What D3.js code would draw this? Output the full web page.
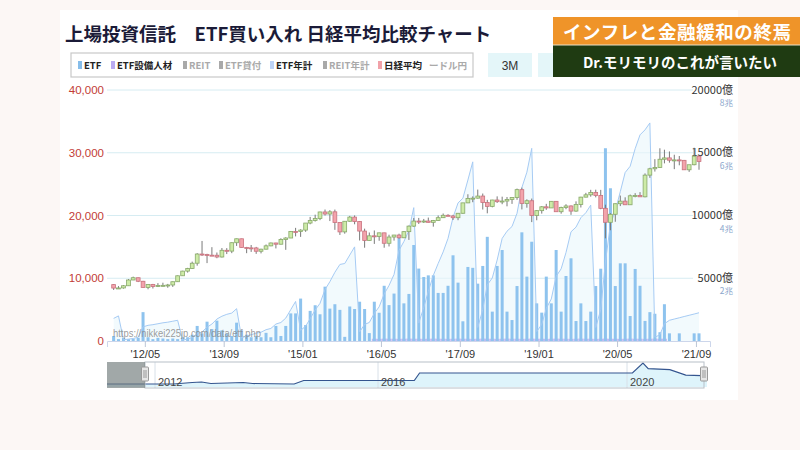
<!DOCTYPE html>
<html><head><meta charset="utf-8">
<script src="https://cdn.jsdelivr.net/npm/d3@7"></script>
<style>
html,body{margin:0;padding:0;background:#fcf7f5;}
svg{display:block;}
</style></head><body>
<svg id="c" width="800" height="450"></svg>
<script>
// ---------------- DATA ----------------
const firstMonth = "2011-11";   // first candle / bar month
const monthCount = 120;         // Nov 2011 .. Oct 2021

const nikkeiOpen = [8988,8434,8455,8802,9723,10083,9520,8542,9006,8695,8839,8870,8928,9446,10395,11138,11559,12397,13860,13774,13677,13668,13389,14455,14327,15662,16291,14914,14841,14828,14304,14632,15162,15621,15425,16173,16413,17459,17450,17674,18797,19206,19520,20563,20235,20585,18890,17388,19083,19747,19034,17518,16027,16759,16666,17235,15576,16569,16887,16450,17425,18308,19114,19041,19119,18909,19197,19651,20033,19925,19646,20356,22012,22725,22765,23098,22068,21454,22468,22202,22305,22554,22865,24120,21920,22351,20015,20773,21385,21206,22259,20601,21276,21522,20704,21756,22927,23294,23657,23205,21143,18917,20194,21878,22288,21710,23140,23185,22977,26434,27444,27663,28966,29179,28813,28860,28792,27284,28090,29453];
const nikkeiHigh = [9050,8750,8900,9866,10255,10100,9580,9070,9100,9222,9288,9100,9470,10433,11192,11662,12650,14000,15942,13900,14953,14100,14817,14800,15700,16320,16300,15000,15300,15000,14700,15376,15680,15650,16374,16533,17520,18030,17800,18800,19778,20133,20600,20953,20850,20946,18900,19100,19937,20012,19100,17905,17291,17613,17251,17250,16938,16900,17100,17500,18400,19592,19615,19450,19668,19290,19998,20318,20200,20100,20400,22012,23382,23050,24129,23500,22500,22500,23050,23000,22949,22900,24286,24448,22583,22698,20850,21500,21860,22300,22300,21400,21800,21600,22255,22974,23608,24092,24115,24083,21719,20365,21916,23178,22900,23338,23559,23725,26706,27602,28979,30714,30485,30208,29685,29480,28852,28000,30795,29500];
const nikkeiLow = [8135,8300,8350,8800,9700,9388,8540,8238,8365,8600,8700,8488,8619,9400,10400,10900,11500,12003,13555,12415,13600,13188,13300,13853,14000,15150,14900,13995,14200,13885,13964,14600,15100,14753,15400,14529,16400,16672,16592,17400,18600,19034,19258,19990,19115,17714,16901,17100,19000,18600,16017,14865,16000,15471,15975,14864,15067,16000,16300,16400,16111,18200,18650,18805,18900,18224,19150,19600,19900,19280,19250,20300,21973,22119,22700,20950,20347,21300,22000,21800,21462,21850,22500,20971,21243,18949,19241,20300,20900,21200,20600,20289,21000,20110,20600,21276,22900,23000,22892,21000,16358,17646,19000,21500,21710,21700,22900,22948,22900,26000,27000,27600,28308,28419,27385,28000,27272,26954,28000,27293];
const nikkeiClose = [8434,8455,8802,9723,10083,9520,8542,9006,8695,8839,8870,8928,9446,10395,11138,11559,12397,13860,13774,13677,13668,13389,14455,14327,15662,16291,14914,14841,14828,14304,14632,15162,15621,15425,16173,16413,17459,17450,17674,18797,19206,19520,20563,20235,20585,18890,17388,19083,19747,19034,17518,16027,16759,16666,17235,15576,16569,16887,16450,17425,18308,19114,19041,19119,18909,19197,19651,20033,19925,19646,20356,22012,22725,22765,23098,22068,21454,22468,22202,22305,22554,22865,24120,21920,22351,20015,20773,21385,21206,22259,20601,21276,21522,20704,21756,22927,23294,23657,23205,21143,18917,20194,21878,22288,21710,23140,23185,22977,26434,27444,27663,28966,29179,28813,28860,28792,27284,28090,29453,28600];

// ETF monthly purchases (億円)
const etfBuy = [400,150,250,150,180,250,2300,300,150,250,200,150,200,150,300,300,500,1200,600,1540,950,1620,850,600,400,1460,850,500,300,400,300,650,300,1200,400,1200,2200,2200,3380,1270,2400,2850,2130,4330,2580,2930,2480,330,2750,2550,3130,2550,630,3130,2250,4400,2860,3780,8200,3000,3750,7650,5770,5100,5230,5230,3830,3830,4400,6830,4650,1570,5900,5830,4570,5980,8300,2340,5980,7250,2340,1670,4380,8660,5130,7910,3000,2260,5130,3000,7250,2340,5180,6590,1590,3000,1590,2340,4380,5760,15360,12170,4380,6190,6190,1990,5740,4400,1600,2300,2170,700,2930,610,0,610,0,0,610,610];
// ETF 設備人材 (億円)
const etfJinzai = [0,0,0,0,0,0,0,0,0,0,0,0,0,0,0,0,0,0,0,0,0,0,0,0,0,0,0,0,0,0,0,0,0,0,0,0,0,0,0,0,0,0,0,0,0,0,0,0,0,0,0,0,0,180,170,190,180,180,170,180,190,180,180,170,180,190,180,180,170,180,190,180,180,170,180,190,180,180,170,180,190,180,180,170,180,190,180,180,170,180,190,180,180,170,180,190,180,180,170,180,190,180,180,170,180,190,180,180,170,180,190,180,180,0,0,0,0,0,0,0];
// ETF 年計 (兆円, calendar-year running total)
const etfYear = [0.72,0.80,
 0.04,0.06,0.08,0.12,0.45,0.50,0.52,0.55,0.58,0.60,0.63,0.66,
 0.03,0.06,0.11,0.23,0.29,0.44,0.54,0.70,0.79,0.85,0.89,1.03,
 0.10,0.16,0.20,0.25,0.28,0.36,0.40,0.54,0.59,0.73,1.00,1.26,
 0.34,0.47,0.71,0.99,1.20,1.64,1.89,2.19,2.44,2.47,2.74,3.00,
 0.29,0.53,0.59,0.88,1.09,1.50,1.77,2.12,2.89,3.17,3.52,4.25,
 0.57,1.07,1.58,2.09,2.47,2.84,3.27,3.94,4.40,4.55,5.13,5.71,
 0.43,1.00,1.79,2.01,2.58,3.27,3.50,3.65,4.07,4.89,5.38,6.14,
 0.30,0.53,1.04,1.34,2.06,2.30,2.82,3.48,3.63,3.93,4.09,4.33,
 0.43,1.00,2.52,3.72,4.15,4.76,5.37,5.57,6.13,6.57,6.73,6.95,
 0.12,0.20,0.55,0.66,0.70,0.74,0.78,0.82,0.86,0.90];

// axis ticks
const xTickMonths = ["2012-05","2013-09","2015-01","2016-05","2017-09","2019-01","2020-05","2021-09"];
const xTickLabels = ["'12/05","'13/09","'15/01","'16/05","'17/09","'19/01","'20/05","'21/09"];
const leftTicks = [0,10000,20000,30000,40000];
const rightTicks = [5000,10000,15000,20000];
const rightLabels = ["5000億","10000億","15000億","20000億"];
const rightSubLabels = ["2兆","4兆","6兆","8兆"];

// navigator series
const navDates = ["2011-03","2011-11","2012-05","2012-09","2012-11","2013-01","2013-08","2013-10","2014-07","2014-09","2016-08","2016-09","2020-02","2020-04","2020-05","2020-09","2020-12","2021-03","2021-04"];
const navValues = [1.15,1.15,1.15,1.73,1.92,1.35,1.73,1.35,1.15,2.5,2.5,5.38,5.38,9.23,7.1,6.7,4.6,4.4,5.38];
const navYearTicks = ["2012","2016","2020"];

// legend
const legendLabels = ["ETF","ETF設備人材","REIT","ETF貸付","ETF年計","REIT年計","日経平均","ドル円"];
const legendColors = ["#86bdea","#b9aaf2","#a9a9a9","#a9a9a9","#bcd3f7","#a9a9a9","#f1a2a9","#bbbbbb"];
const legendActive = [true,true,false,false,true,false,true,false];

const titleText = "上場投資信託　ETF買い入れ 日経平均比較チャート";
const bannerTop = "インフレと金融緩和の終焉";
const bannerBottom = "Dr.モリモリのこれが言いたい";
const watermark = "https://nikkei225jp.com/data/etf.php";

// ---------------- DRAW ----------------
const svg = d3.select("#c");
const JP = "'Noto Sans CJK JP','Noto Sans',sans-serif";
const LAT = "'Liberation Sans',Arial,sans-serif";
const parseM = d3.timeParse("%Y-%m");
const parseY = d3.timeParse("%Y");
const months = d3.timeMonth.range(parseM(firstMonth), d3.timeMonth.offset(parseM(firstMonth), monthCount));

// white panel
svg.append("rect").attr("x",60).attr("y",10).attr("width",678).attr("height",390).attr("fill","#ffffff");

// title
svg.append("text").attr("x",65).attr("y",41).attr("font-family",JP).attr("font-weight","bold")
  .attr("font-size",18.5).attr("fill","#1b1b38").text(titleText);

// scales
const x = d3.scaleTime().domain([new Date(2011,8,21), new Date(2021,11,8)]).range([107,710]);
const yL = d3.scaleLinear().domain([0,40000]).range([341,90]);
const yR = d3.scaleLinear().domain([0,20000]).range([341,90]);
const yT = d3.scaleLinear().domain([0,8]).range([341,90]);

// gridlines
svg.append("g").selectAll("line").data(leftTicks.filter(d=>d>0)).join("line")
  .attr("x1",107).attr("x2",693).attr("y1",d=>yL(d)).attr("y2",d=>yL(d))
  .attr("stroke","#d6ecf2").attr("stroke-width",1);

// left axis
const gL = svg.append("g").attr("transform","translate(104,0)")
  .call(d3.axisLeft(yL).tickValues(leftTicks).tickFormat(d3.format(",")).tickSize(0).tickPadding(0));
gL.select(".domain").remove();
gL.selectAll("text").attr("font-family",LAT).attr("font-size",11.5).attr("fill","#c23b35");

// right axis
const gR = svg.append("g");
gR.selectAll("text.main").data(rightTicks).join("text").attr("class","main")
  .attr("x",733).attr("y",d=>yR(d)+3.5).attr("text-anchor","end")
  .attr("font-family",JP).attr("font-size",11).attr("fill","#333").text((d,i)=>rightLabels[i]);
gR.selectAll("text.sub").data(rightTicks).join("text").attr("class","sub")
  .attr("x",733).attr("y",d=>yR(d)+16).attr("text-anchor","end")
  .attr("font-family",JP).attr("font-size",8.5).attr("fill","#8aa6cc").text((d,i)=>rightSubLabels[i]);

// ETF 年計 area
const yearPts = months.map((m,i)=>({m, v:etfYear[i]}));
svg.append("path").datum(yearPts)
  .attr("d", d3.area().x(d=>x(d.m)).y0(yT(0)).y1(d=>yT(d.v)))
  .attr("fill","#eaf6fc").attr("fill-opacity",0.6);

// 設備人材 bars (purple)
svg.append("g").selectAll("rect").data(months).join("rect")
  .attr("x",d=>x(d)-2.5).attr("width",5)
  .attr("y",(d,i)=>yR(etfJinzai[i])).attr("height",(d,i)=>yR(0)-yR(etfJinzai[i]))
  .attr("fill","#c7b8f3");

// ETF bars (blue)
svg.append("g").selectAll("rect").data(months).join("rect")
  .attr("x",d=>x(d)-1.5).attr("width",3)
  .attr("y",(d,i)=>yR(etfBuy[i])).attr("height",(d,i)=>yR(0)-yR(etfBuy[i]))
  .attr("fill","#8ec3ee");

// ETF 年計 line
svg.append("path").datum(yearPts)
  .attr("d", d3.line().x(d=>x(d.m)).y(d=>yT(d.v)))
  .attr("fill","none").attr("stroke","#a6cbf4").attr("stroke-width",1);

// bottom axis
const gX = svg.append("g").attr("transform","translate(0,341)")
  .call(d3.axisBottom(x).tickValues(xTickMonths.map(s=>d3.timeDay.offset(parseM(s),11)))
    .tickFormat((d,i)=>xTickLabels[i]).tickSize(6).tickPadding(3));
gX.select(".domain").attr("stroke","#ccd6eb");
gX.selectAll(".tick line").attr("stroke","#bcc6d6");
gX.selectAll("text").attr("font-family",LAT).attr("font-size",11).attr("fill","#333");

// candles
const cg = svg.append("g");
months.forEach((m,i)=>{
  const o=nikkeiOpen[i], c=nikkeiClose[i], h=nikkeiHigh[i], l=nikkeiLow[i];
  const up = c>=o;
  const cx = x(m);
  cg.append("line").attr("x1",cx).attr("x2",cx).attr("y1",yL(h)).attr("y2",yL(l))
    .attr("stroke","#7a7a7a").attr("stroke-width",1);
  const top = yL(Math.max(o,c)), bot = yL(Math.min(o,c));
  cg.append("rect").attr("x",cx-1.9).attr("width",3.8).attr("y",top).attr("height",Math.max(1,bot-top))
    .attr("fill", up ? "#cdeba7" : "#f3a4ac")
    .attr("stroke", up ? "#88a86a" : "#c9727e").attr("stroke-width",0.8);
});

// watermark
svg.append("text").attr("x",113).attr("y",337).attr("font-family",LAT).attr("font-size",10.5)
  .attr("textLength",148).attr("lengthAdjust","spacingAndGlyphs")
  .attr("fill","#8a8a8a").attr("fill-opacity",0.85).text(watermark);

// navigator
const nx = d3.scaleTime()
  .domain([parseM("2011-03"), parseY("2012"), parseY("2016"), parseY("2020"), parseM("2021-04")])
  .range([107,155,378,627,707]);
const ny = d3.scaleLinear().domain([0,10]).range([387,361]);
const navPts = navDates.map((s,i)=>({d:parseM(s), v:navValues[i]}));
svg.append("path").datum(navPts)
  .attr("d", d3.area().x(d=>nx(d.d)).y0(387).y1(d=>ny(d.v)))
  .attr("fill","#def4fb");
svg.append("g").selectAll("line").data(navYearTicks).join("line")
  .attr("x1",d=>nx(parseY(d))).attr("x2",d=>nx(parseY(d)))
  .attr("y1",362).attr("y2",388).attr("stroke","#d8e0e8");
svg.append("path").datum(navPts)
  .attr("d", d3.line().x(d=>nx(d.d)).y(d=>ny(d.v)))
  .attr("fill","none").attr("stroke","#34558f").attr("stroke-width",1.2);
svg.append("g").selectAll("text").data(navYearTicks).join("text")
  .attr("x",d=>nx(parseY(d))+3).attr("y",386)
  .attr("font-family",LAT).attr("font-size",11).attr("fill","#444").text(d=>d);
svg.append("rect").attr("x",145).attr("y",362).attr("width",559).attr("height",26)
  .attr("fill","none").attr("stroke","#b8c0c8");
svg.append("rect").attr("x",107).attr("y",362).attr("width",38).attr("height",26)
  .attr("fill","#6f7a7a").attr("fill-opacity",0.65);
[145,704].forEach(hx=>{
  svg.append("rect").attr("x",hx-3.5).attr("y",367).attr("width",7).attr("height",14).attr("rx",1)
    .attr("fill","#e6e6e6").attr("stroke","#999");
  svg.append("line").attr("x1",hx-1).attr("x2",hx-1).attr("y1",370).attr("y2",378).attr("stroke","#999");
  svg.append("line").attr("x1",hx+1).attr("x2",hx+1).attr("y1",370).attr("y2",378).attr("stroke","#999");
});

// legend
svg.append("rect").attr("x",71).attr("y",53).attr("width",402).attr("height",24)
  .attr("fill","#fff").attr("stroke","#c8c8c8").attr("stroke-width",1.2);
const lgX = [78,111,183,219,270,323,378,429];
const lg = svg.append("g");
legendLabels.forEach((t,i)=>{
  if(i<7){
    lg.append("rect").attr("x",lgX[i]).attr("y",61).attr("width",4).attr("height",8).attr("fill",legendColors[i]);
    lg.append("text").attr("x",lgX[i]+6).attr("y",69).attr("font-family",JP).attr("font-weight","bold")
      .attr("font-size",9.5).attr("fill",legendActive[i]?"#222":"#aaa").text(t);
  } else {
    lg.append("text").attr("x",lgX[i]).attr("y",69).attr("font-family",JP).attr("font-weight","bold")
      .attr("font-size",9.5).attr("fill","#aaa").text("ー"+t);
  }
});
// range buttons
svg.append("rect").attr("x",488).attr("y",53).attr("width",44).attr("height",24).attr("fill","#e4f6f9");
svg.append("text").attr("x",510).attr("y",70).attr("text-anchor","middle").attr("font-family",LAT)
  .attr("font-size",12).attr("fill","#333").text("3M");
svg.append("rect").attr("x",538).attr("y",53).attr("width",20).attr("height",24).attr("fill","#e4f6f9");

// banner
svg.append("rect").attr("x",553).attr("y",17).attr("width",247).attr("height",28).attr("fill","#ef9429");
svg.append("rect").attr("x",553).attr("y",45).attr("width",247).attr("height",32).attr("fill","#1f3b12");
svg.append("line").attr("x1",553).attr("x2",800).attr("y1",45).attr("y2",45).attr("stroke","#e8e0c8").attr("stroke-width",1);
svg.append("text").attr("x",563).attr("y",39).attr("font-family",JP).attr("font-weight","bold")
  .attr("font-size",18.5).attr("letter-spacing",0.6).attr("fill","#fff").text(bannerTop);
svg.append("text").attr("x",583).attr("y",68).attr("font-family",JP).attr("font-weight","bold")
  .attr("font-size",14.5).attr("fill","#fff").text(bannerBottom);
</script>
</body></html>
